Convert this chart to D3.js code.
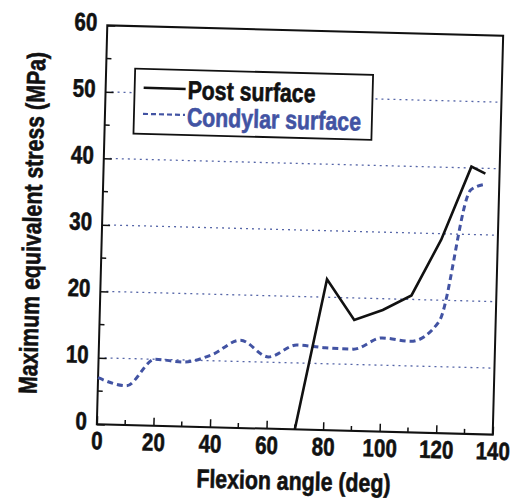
<!DOCTYPE html>
<html>
<head>
<meta charset="utf-8">
<script src="https://cdn.jsdelivr.net/npm/d3@7"></script>
<style>
  body { margin: 0; background: #fff; }
  text { font-family: "Liberation Sans", Arial, sans-serif; font-weight: bold; stroke-width: 0.6px; }
</style>
</head>
<body>
<div id="chart"></div>
<script>
// data
const angles     = [0, 10, 20, 30, 40, 50, 60, 70, 80, 90, 100, 110, 120, 130, 135];
const condylar   = [7.0, 5.9, 10.0, 9.7, 10.9, 13.2, 10.8, 12.7, 12.4, 12.3, 14.1, 13.7, 16.8, 36.7, 37.6];
const postAngles = [70, 80, 90, 100, 110, 120, 130, 135];
const post       = [0, 22.7, 16.7, 18.3, 20.6, 29.1, 40.2, 39.2];
const xTicks = [0, 20, 40, 60, 80, 100, 120, 140];
const yTicks = [0, 10, 20, 30, 40, 50, 60];
const gridVals = [10, 20, 30, 40, 50];
const seriesNames = ["Post surface", "Condylar surface"];

const width = 524, height = 503;
const padding = {top: 30.5, right: 26, bottom: 73.5, left: 102};

const blueCol = "#4253a3";
const gridCol = "#5666a8";
const narrow = 0.82; // the original uses a narrow bold face

const svg = d3.select("#chart").append("svg")
  .attr("width", width)
  .attr("height", height);

// the scan is tilted a little, so the whole figure is turned
const g = svg.append("g").attr("transform", "rotate(1.5, 300, 230)");

const x = d3.scaleLinear().domain([0, 140]).range([padding.left, width - padding.right]);
const y = d3.scaleLinear().domain([0, 60]).range([height - padding.bottom, padding.top]);

// squeeze text horizontally around its own anchor
function condense(sel) {
  sel.each(function() {
    const t = d3.select(this);
    const tx = +t.attr("x") || 0;
    const ty = +t.attr("y") || 0;
    t.attr("x", 0).attr("y", 0)
     .attr("transform", "translate(" + tx + "," + ty + ") scale(" + narrow + ",1)");
  });
}

// dotted grid lines
g.selectAll(".grid")
  .data(gridVals)
  .join("line")
    .attr("class", "grid")
    .attr("x1", x(0) + 6)
    .attr("x2", x(140) - 2)
    .attr("y1", d => y(d))
    .attr("y2", d => y(d))
    .attr("stroke", gridCol)
    .attr("stroke-width", 1.3)
    .attr("stroke-dasharray", "2,4");

// x axis with inward ticks
const xAxis = d3.axisBottom(x).tickValues(xTicks).tickSize(-8).tickPadding(0).tickFormat(d3.format("d"));
const xg = g.append("g")
  .attr("class", "axis x")
  .attr("transform", "translate(0," + y(0) + ")")
  .call(xAxis);
xg.selectAll(".tick text").attr("dy", 0).attr("y", 25).attr("font-size", 25)
  .attr("fill", "#111").attr("stroke", "#111")
  .call(condense);
g.append("g")
  .attr("transform", "translate(0," + y(0) + ")")
  .selectAll("line")
  .data(d3.range(10, 140, 20))
  .join("line")
    .attr("x1", d => x(d)).attr("x2", d => x(d))
    .attr("y1", 0).attr("y2", -5)
    .attr("stroke", "#111").attr("stroke-width", 1.5);

// y axis with inward ticks
const yAxis = d3.axisLeft(y).tickValues(yTicks).tickSize(-8).tickPadding(10).tickFormat(d3.format("d"));
const yg = g.append("g")
  .attr("class", "axis y")
  .attr("transform", "translate(" + x(0) + ",0)")
  .call(yAxis);
yg.selectAll(".tick text").attr("dy", "0.32em").attr("y", -3).attr("font-size", 25)
  .attr("fill", "#111").attr("stroke", "#111")
  .call(condense);
g.append("g")
  .attr("transform", "translate(" + x(0) + ",0)")
  .selectAll("line")
  .data(d3.range(5, 60, 10))
  .join("line")
    .attr("x1", 0).attr("x2", 5)
    .attr("y1", d => y(d)).attr("y2", d => y(d))
    .attr("stroke", "#111").attr("stroke-width", 1.5);

g.selectAll(".axis .domain").remove();
g.selectAll(".axis .tick line").attr("stroke", "#111").attr("stroke-width", 1.5);

// frame
g.append("rect")
  .attr("x", x(0)).attr("y", y(60))
  .attr("width", x(140) - x(0)).attr("height", y(0) - y(60))
  .attr("fill", "none").attr("stroke", "#111").attr("stroke-width", 2);

// lines
const condData = angles.map((a, i) => [a, condylar[i]]);
const postData = postAngles.map((a, i) => [a, post[i]]);

g.append("path")
  .datum(condData)
  .attr("fill", "none")
  .attr("stroke", blueCol)
  .attr("stroke-width", 3)
  .attr("stroke-dasharray", "6,4")
  .attr("d", d3.line().x(d => x(d[0])).y(d => y(d[1])).curve(d3.curveMonotoneX));

g.append("path")
  .datum(postData)
  .attr("fill", "none")
  .attr("stroke", "#111")
  .attr("stroke-width", 2.6)
  .attr("d", d3.line().x(d => x(d[0])).y(d => y(d[1])));

// legend
const lg = g.append("g").attr("transform", "translate(131,73)");
lg.append("rect")
  .attr("width", 238).attr("height", 65)
  .attr("fill", "#fff").attr("stroke", "#111").attr("stroke-width", 1.8);
lg.selectAll(".lgline")
  .data(seriesNames)
  .join("line")
    .attr("x1", 9).attr("x2", 51)
    .attr("y1", (d, i) => 19 + i * 26).attr("y2", (d, i) => 19 + i * 26)
    .attr("stroke", (d, i) => i == 0 ? "#111" : blueCol)
    .attr("stroke-width", (d, i) => i == 0 ? 2.5 : 2.2)
    .attr("stroke-dasharray", (d, i) => i == 0 ? null : "5,3");
lg.selectAll(".lgtext")
  .data(seriesNames)
  .join("text")
    .attr("x", 53)
    .attr("y", (d, i) => 29 + i * 27)
    .attr("font-size", 26)
    .attr("fill", (d, i) => i == 0 ? "#111" : blueCol)
    .attr("stroke", (d, i) => i == 0 ? "#111" : blueCol)
    .text(d => d)
    .call(condense);

// axis titles
g.append("text")
  .attr("x", 300).attr("y", 490)
  .attr("text-anchor", "middle")
  .attr("font-size", 26)
  .attr("fill", "#111").attr("stroke", "#111")
  .text("Flexion angle (deg)")
  .call(condense);

g.append("text")
  .attr("transform", "translate(41,230) rotate(-90) scale(" + narrow + ",1)")
  .attr("text-anchor", "middle")
  .attr("font-size", 26)
  .attr("fill", "#111").attr("stroke", "#111")
  .text("Maximum equivalent stress (MPa)");
</script>
</body>
</html>
